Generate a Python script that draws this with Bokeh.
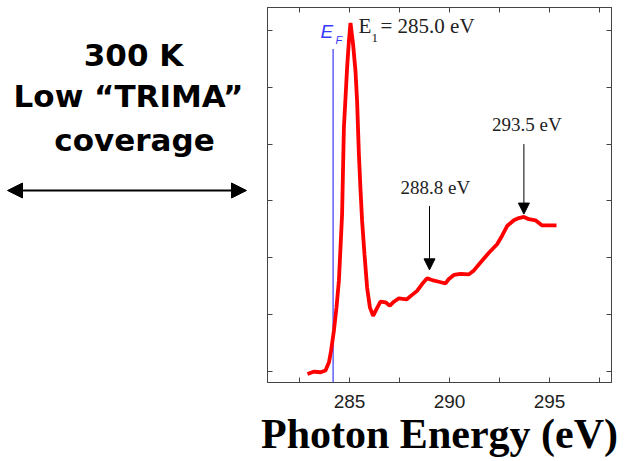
from bokeh.plotting import figure
from bokeh.layouts import row
from bokeh.models import (ColumnDataSource, FixedTicker, LinearAxis, Range1d,
                          Label, Arrow, NormalHead)
from bokeh.embed import file_html
from bokeh.resources import INLINE

# ---- data ----
energy = [282.9, 283.2, 283.55, 283.8, 283.97, 284.08, 284.22, 284.35, 284.47,
          284.55, 284.63, 284.72, 284.8, 284.88, 284.97, 285.05, 285.18, 285.3,
          285.38, 285.47, 285.55, 285.63, 285.75, 285.88, 286.02, 286.18, 286.35,
          286.55, 286.8, 287.02, 287.22, 287.47, 287.85, 288.13, 288.38, 288.63,
          288.88, 289.13, 289.47, 289.8, 289.97, 290.22, 290.55, 290.97, 291.22,
          291.55, 291.97, 292.38, 292.63, 292.88, 293.22, 293.47, 293.72, 293.97,
          294.3, 294.63, 294.97, 295.35]
intensity = [-0.04, 0.0, -0.01, 0.02, 0.16, 0.37, 0.72, 1.13, 1.6,
             2.18, 2.77, 4.29, 4.81, 5.34, 5.81, 6.13, 5.75, 5.28,
             4.75, 3.82, 3.2, 2.65, 2.06, 1.48, 1.13, 0.98, 1.1,
             1.23, 1.22, 1.16, 1.23, 1.29, 1.27, 1.35, 1.42, 1.54,
             1.64, 1.61, 1.58, 1.55, 1.63, 1.7, 1.72, 1.71, 1.78,
             1.92, 2.09, 2.24, 2.39, 2.56, 2.66, 2.70, 2.72, 2.68,
             2.66, 2.57, 2.57, 2.57]
x_ticks = [282.5, 285, 287.5, 290, 292.5, 295, 297.5]
x_tick_labels = [285, 290, 295]
y_ticks = [0, 1, 2, 3, 4, 5, 6]

fermi_energy = 284.18
fermi_top = 5.67
peak_labels = ["288.8 eV", "293.5 eV"]
arrow_x = [289.0, 293.72]
arrow_top = [2.91, 4.0]
arrow_tip = [1.79, 2.77]

left_lines = ["300 K", "Low \u201cTRIMA\u201d", "coverage"]

XMIN, XMAX = 280.9, 298.1
YMIN, YMAX = -0.19, 6.4

AX = "#444444"
TXT = "#222222"

# ---------------- left panel (text + double arrow) ----------------
# coordinates: x = pixels from left, y = pixels up from the bottom of the page.
# In a row the frames are aligned with the spectrum frame (top 7, bottom 382).
LW, H = 247, 461
FR_TOP, FR_BOT = 7, 382
pl = figure(width=LW, height=H, output_backend="svg", toolbar_location=None,
            x_range=Range1d(0, LW), y_range=Range1d(H - FR_BOT, H - FR_TOP),
            x_axis_location=None, y_axis_location=None, min_border=0)
pl.grid.visible = False
pl.outline_line_color = None
pl.border_fill_color = "white"
pl.background_fill_color = "white"

left_y = [H - 54, H - 95, H - 139]
left_x = [133, 128, 134]
for lx, ly, t in zip(left_x, left_y, left_lines):
    pl.add_layout(Label(x=lx, y=ly, text=t, text_font="DejaVu Sans",
                        text_font_style="bold", text_font_size="31px",
                        text_color="black", text_align="center",
                        text_baseline="alphabetic"))
pl.add_layout(Arrow(x_start=7, y_start=H - 190, x_end=246, y_end=H - 190,
                    line_color="black", line_width=2,
                    start=NormalHead(size=15, fill_color="black", line_color="black"),
                    end=NormalHead(size=15, fill_color="black", line_color="black")))

# ---------------- right panel (spectrum) ----------------
p = figure(width=627 - LW, height=H, output_backend="svg", toolbar_location=None,
           x_range=Range1d(XMIN, XMAX), y_range=Range1d(YMIN, YMAX),
           x_axis_location=None, y_axis_location=None,
           min_border_left=20, min_border_right=16, min_border_top=FR_TOP,
           min_border_bottom=H - FR_BOT)
p.grid.visible = False
p.outline_line_color = AX
p.background_fill_color = "white"
p.border_fill_color = "white"


def make_axis(ticks, overrides, size="19px", standoff=10):
    ax = LinearAxis(ticker=FixedTicker(ticks=ticks))
    ax.axis_line_color = AX
    ax.major_tick_line_color = AX
    ax.major_tick_in = 5
    ax.major_tick_out = 0
    ax.minor_tick_line_color = None
    ax.major_label_text_font = "Liberation Sans"
    ax.major_label_text_font_size = size
    ax.major_label_text_color = TXT
    ax.major_label_standoff = standoff
    ax.major_label_overrides = overrides
    return ax


bottom_over = {t: (str(int(t)) if t in x_tick_labels else "") for t in x_ticks}
blank_x = {t: "" for t in x_ticks}
blank_y = {t: "" for t in y_ticks}

xb = make_axis(x_ticks, bottom_over, "19px", 12)
xb.axis_label = "Photon Energy (eV)"
xb.axis_label_text_font = "Liberation Serif"
xb.axis_label_text_font_style = "bold"
xb.axis_label_text_font_size = "42px"
xb.axis_label_text_color = "black"
xb.axis_label_standoff = 0
p.add_layout(xb, "below")
p.add_layout(make_axis(x_ticks, blank_x, "5px", 0), "above")
p.add_layout(make_axis(y_ticks, blank_y, "5px", 0), "left")
p.add_layout(make_axis(y_ticks, blank_y, "5px", 0), "right")

# Fermi level line
p.segment(x0=[fermi_energy], y0=[fermi_top], x1=[fermi_energy], y1=[YMIN],
          line_color="#3a3aff", line_width=1.2)

# spectrum
src = ColumnDataSource(dict(x=energy, y=intensity))
p.line("x", "y", source=src, line_color="#ff0000", line_width=3.8)

# E_F label
p.add_layout(Label(x=283.55, y=5.79, text="E", text_font="Liberation Sans",
                   text_font_style="italic", text_font_size="19px",
                   text_color="#3a3aff"))
p.add_layout(Label(x=284.3, y=5.72, text="F", text_font="Liberation Sans",
                   text_font_style="italic", text_font_size="11px",
                   text_color="#3a3aff"))

# E1 label
p.add_layout(Label(x=285.45, y=5.86, text="E", text_font="Liberation Serif",
                   text_font_size="21px", text_color=TXT))
p.add_layout(Label(x=286.1, y=5.8, text="1", text_font="Liberation Serif",
                   text_font_size="13px", text_color=TXT))
p.add_layout(Label(x=286.55, y=5.86, text="= 285.0 eV", text_font="Liberation Serif",
                   text_font_size="21px", text_color=TXT))

# peak labels and arrows
label_x = [287.55, 292.13]
label_y = [3.05, 4.16]
for lx, ly, t in zip(label_x, label_y, peak_labels):
    p.add_layout(Label(x=lx, y=ly, text=t, text_font="Liberation Serif",
                       text_font_size="19px", text_color=TXT))
for ax_, top, tip in zip(arrow_x, arrow_top, arrow_tip):
    p.add_layout(Arrow(x_start=ax_, y_start=top, x_end=ax_, y_end=tip,
                       line_color="black", line_width=1,
                       end=NormalHead(size=11, fill_color="black",
                                      line_color="black")))

layout = row(pl, p, spacing=0)
open("out.html", "w").write(file_html(layout, INLINE))
